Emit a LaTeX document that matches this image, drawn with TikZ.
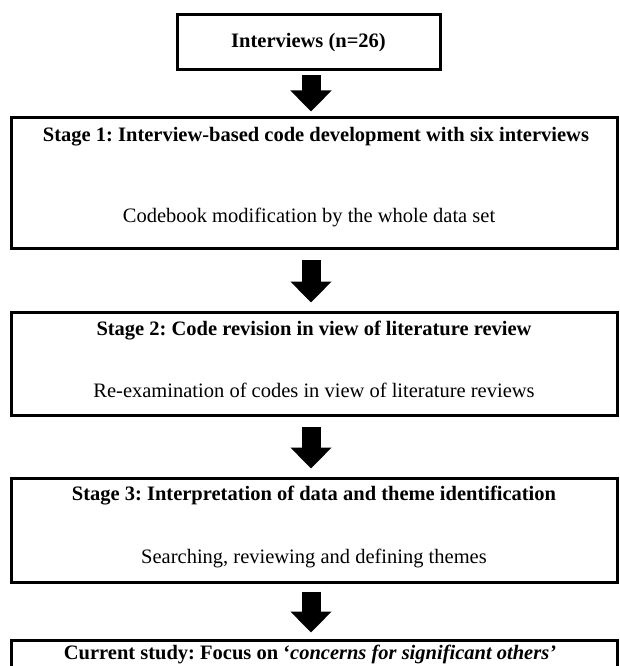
\documentclass[tikz,border=0pt]{standalone}
\usepackage{fontspec}
\setmainfont{Liberation Serif}
\usetikzlibrary{arrows.meta}
\frenchspacing
\begin{document}
\begin{tikzpicture}[x=1pt,y=-1pt,
  box/.style={draw, line width=3pt, inner sep=0pt},
  ttl/.style={font=\fontsize{20.5}{24}\selectfont\bfseries, inner sep=0pt},
  subt/.style={font=\fontsize{20.5}{24}\selectfont, inner sep=0pt},
  bigarrow/.style={line width=19pt, -{Triangle[length=21pt 0 0,width=40pt 0 0]}, shorten <=10pt, shorten >=8pt}]
\useasboundingbox (0,0) rectangle (619,666);
\clip (0,0) rectangle (619,666);
\coordinate (ax) at (311,0);
% boxes
\node[box, minimum width=263pt, minimum height=55pt] (top) at (308.5,42.5) {};
\node[box, minimum width=606pt, minimum height=130pt] (s1) at (314.5,183) {};
\node[box, minimum width=606pt, minimum height=103pt] (s2) at (314.5,363.5) {};
\node[box, minimum width=606pt, minimum height=104pt] (s3) at (314.5,530) {};
\node[box, minimum width=606pt, minimum height=81pt] (s4) at (314.5,680.5) {};
% texts
\node[ttl] (ttop) at (308.5,42.5) {Interviews (n=26)};
\node[ttl] (t1) at (316,137) {Stage 1: Interview-based code development with six interviews};
\node[subt] (u1) at (309,217) {Codebook modification by the whole data set};
\node[ttl] (t2) at (314,331) {Stage 2: Code revision in view of literature review};
\node[subt] (u2) at (314,390) {Re-examination of codes in view of literature reviews};
\node[ttl] (t3) at (314,496) {Stage 3: Interpretation of data and theme identification};
\node[subt] (u3) at (314,558) {Searching, reviewing and defining themes};
\node[ttl] (t4) at (310,654.5) {Current study: Focus on ‘\textit{concerns for significant others’}};
% arrows
\draw[bigarrow, shorten <=4pt, shorten >=5pt] (top.south -| ax) -- (s1.north -| ax);
\draw[bigarrow] (s1.south -| ax) -- (s2.north -| ax);
\draw[bigarrow] (s2.south -| ax) -- (s3.north -| ax);
\draw[bigarrow, shorten <=8pt, shorten >=6pt] (s3.south -| ax) -- (s4.north -| ax);
\end{tikzpicture}
\end{document}
